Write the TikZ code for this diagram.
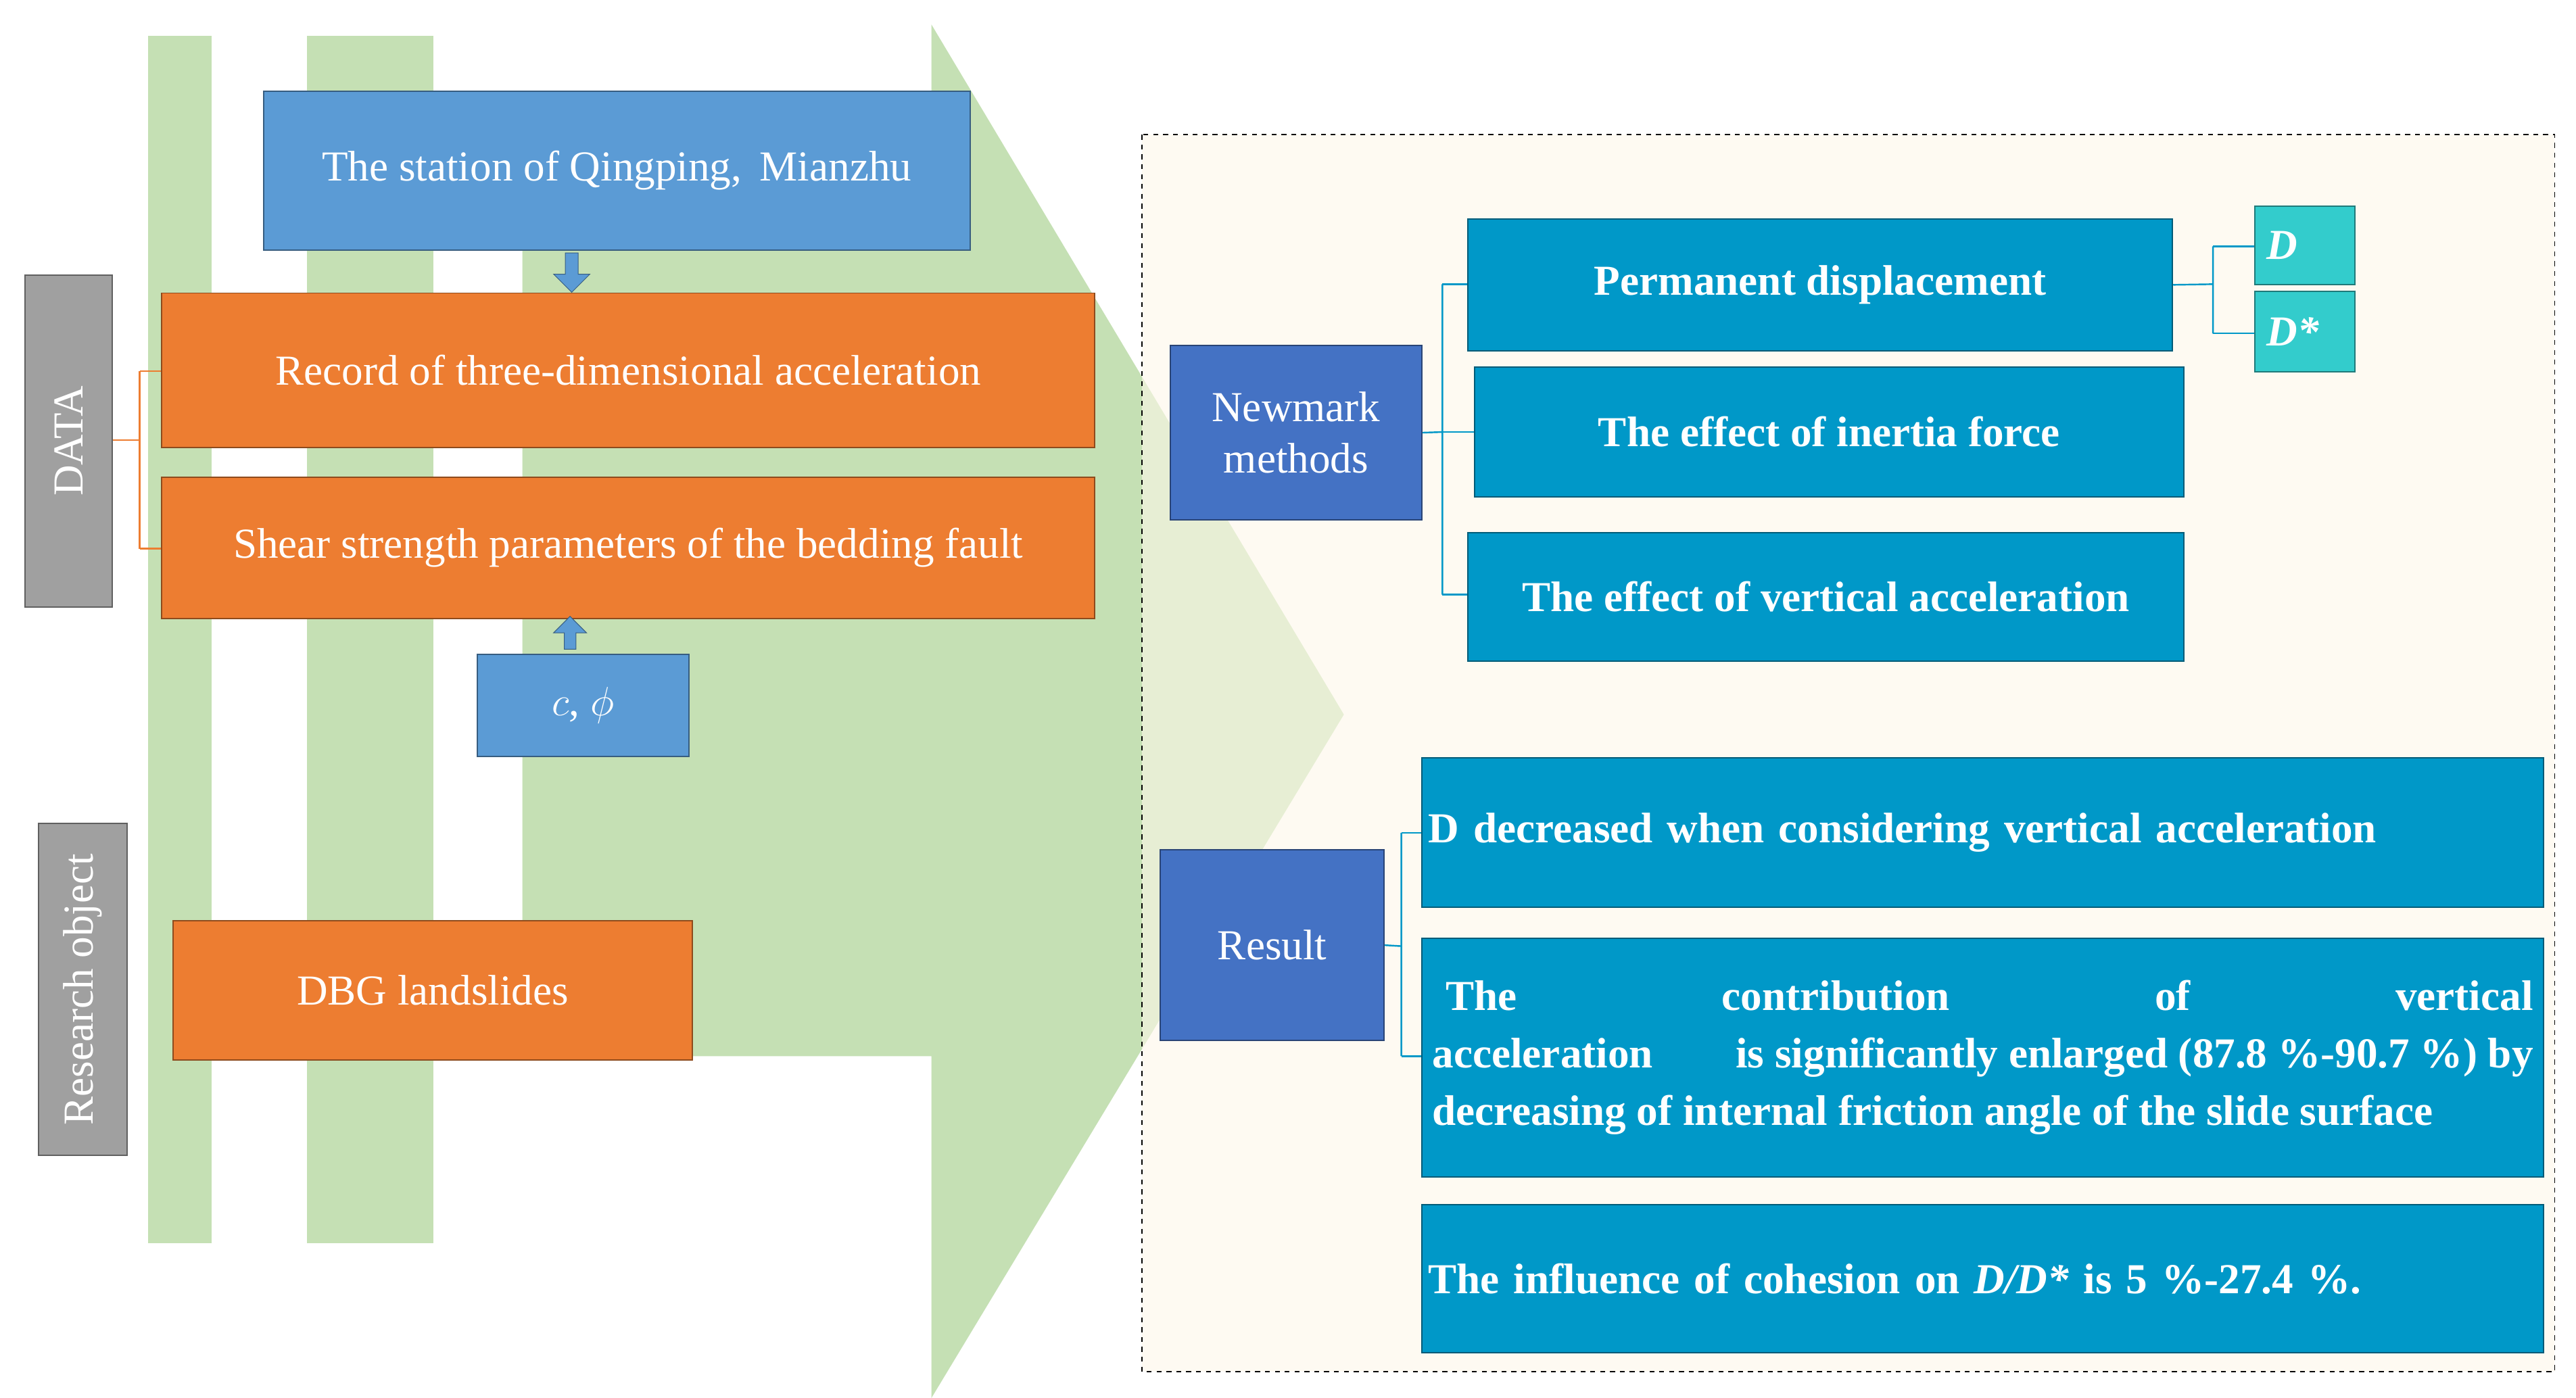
\documentclass[tikz,border=0pt]{standalone}
\usepackage{fontspec}
\setmainfont{Liberation Serif}
\usetikzlibrary{shapes.arrows}
\definecolor{lg}{HTML}{C5E0B4}
\definecolor{cream}{HTML}{FEF8EA}
\definecolor{sb}{HTML}{5B9BD5}
\definecolor{og}{HTML}{ED7D31}
\definecolor{nb}{HTML}{4472C4}
\definecolor{tb}{HTML}{0098C8}
\definecolor{cy}{HTML}{33CCCC}
\definecolor{gr}{HTML}{A0A0A0}
\begin{document}
\begin{tikzpicture}[x=1pt,y=-1pt,
  box/.style={draw=#1!60!black,line width=0.8pt,anchor=north west,inner sep=0pt,text=white,align=center,font=\fontsize{26}{31}\selectfont},
  bbox/.style={box=tb,fill=tb,font=\fontsize{26}{35}\selectfont\bfseries},
  lnk/.style={line width=1pt,draw=#1}]
\useasboundingbox (0,0) rectangle (1568,851);
\fill[white] (0,0) rectangle (1568,851);
% stripes
\fill[lg] (90,22) rectangle (129,757);
\fill[lg] (187,22) rectangle (264,757);
% arrow
\fill[lg] (318,150) -- (567,150) -- (567,15) -- (818,435) -- (567,851) -- (567,643) -- (318,643) -- cycle;
% panel
\fill[cream,opacity=0.6] (695,82) rectangle (1555,835);
\draw[dashed,line width=0.7pt] (695,82) rectangle (1555,835);
% left boxes
\node[box=sb,fill=sb,minimum width=430,minimum height=97] (st) at (160,55) {The station of Qingping,\, Mianzhu};
\node[box=og,fill=og,minimum width=568,minimum height=94] (rec) at (98,178) {Record of three-dimensional acceleration};
\node[box=og,fill=og,minimum width=568,minimum height=86] (sh) at (98,290) {Shear strength parameters of the bedding fault};
\node[box=sb,fill=sb,minimum width=129,minimum height=62] (c) at (290,398) {$c$, $\phi$};
\node[box=og,fill=og,minimum width=316,minimum height=85] (dbg) at (105,560) {DBG landslides};
\node[box=gr,fill=gr,minimum width=53,minimum height=202] (data) at (15,167) {};
\node[rotate=90,text=white,font=\fontsize{26}{31}\selectfont] at (data.center) {DATA};
\node[box=gr,fill=gr,minimum width=54,minimum height=202] (ro) at (23,501) {};
\node[rotate=90,text=white,font=\fontsize{26}{31}\selectfont] at (ro.center) {Research object};
% block arrows
\node[single arrow,draw=sb!60!black,fill=sb,shape border rotate=270,minimum height=24,minimum width=22,single arrow head extend=4pt,inner sep=2pt] (a1) at (348,164) {};
\node[single arrow,draw=sb!60!black,fill=sb,shape border rotate=90,minimum height=20,minimum width=20,single arrow head extend=4pt,inner sep=2pt] (a2) at (347,387) {};
% data bracket
\coordinate (d0) at (85,268);
\draw[lnk=og] (data.east|-d0) -- (d0) (85,226) -- (85,334);
\draw[lnk=og] (85,226) -- (rec.west|-85,226);
\draw[lnk=og] (85,334) -- (sh.west|-85,334);
% right
\node[box=nb,fill=nb,minimum width=153,minimum height=106] (nm) at (712,210) {Newmark\\methods};
\node[bbox,minimum width=429,minimum height=80] (pd) at (893,133) {Permanent displacement};
\node[bbox,minimum width=432,minimum height=79] (in) at (897,223) {The effect of inertia force};
\node[bbox,minimum width=436,minimum height=78] (va) at (893,324) {The effect of vertical acceleration};
\node[box=cy,fill=cy,minimum width=61,minimum height=48,align=left,text width=55,font=\fontsize{26}{31}\selectfont\bfseries\itshape] (d1) at (1372,125) {\,D};
\node[box=cy,fill=cy,minimum width=61,minimum height=49,align=left,text width=55,font=\fontsize{26}{31}\selectfont\bfseries\itshape] (d2) at (1372,177) {\,D*};
\draw[lnk=tb] (nm.east) -- (878,263) (878,173) -- (878,362);
\draw[lnk=tb] (878,173) -- (pd.west|-878,173);
\draw[lnk=tb] (878,263) -- (in.west|-878,263);
\draw[lnk=tb] (878,362) -- (va.west|-878,362);
\draw[lnk=tb] (pd.east) -- (1347,173) (1347,150) -- (1347,203);
\draw[lnk=tb] (1347,150) -- (d1.west|-1347,150);
\draw[lnk=tb] (1347,203) -- (d2.west|-1347,203);
\node[box=nb,fill=nb,minimum width=136,minimum height=116] (res) at (706,517) {Result};
\node[bbox,minimum width=683,minimum height=91,align=left,text width=675] (r1) at (865,461) {D decreased when considering vertical acceleration};
\node[bbox,minimum width=683,minimum height=145,align=justify,text width=670] (r2) at (865,571) {\hspace*{8pt}The\hfill contribution\hfill of\hfill vertical\hfill acceleration\hfill is significantly enlarged (87.8 \%-90.7 \%) by decreasing of internal friction angle of the slide surface\hfill\null};
\node[bbox,minimum width=683,minimum height=90,align=left,text width=675] (r3) at (865,733) {The influence of cohesion on \textit{D/D*} is 5 \%-27.4 \%.};
\draw[lnk=tb] (res.east) -- (853,576) (853,507) -- (853,643);
\draw[lnk=tb] (853,507) -- (r1.west|-853,507);
\draw[lnk=tb] (853,643) -- (r2.west|-853,643);
\end{tikzpicture}
\end{document}
